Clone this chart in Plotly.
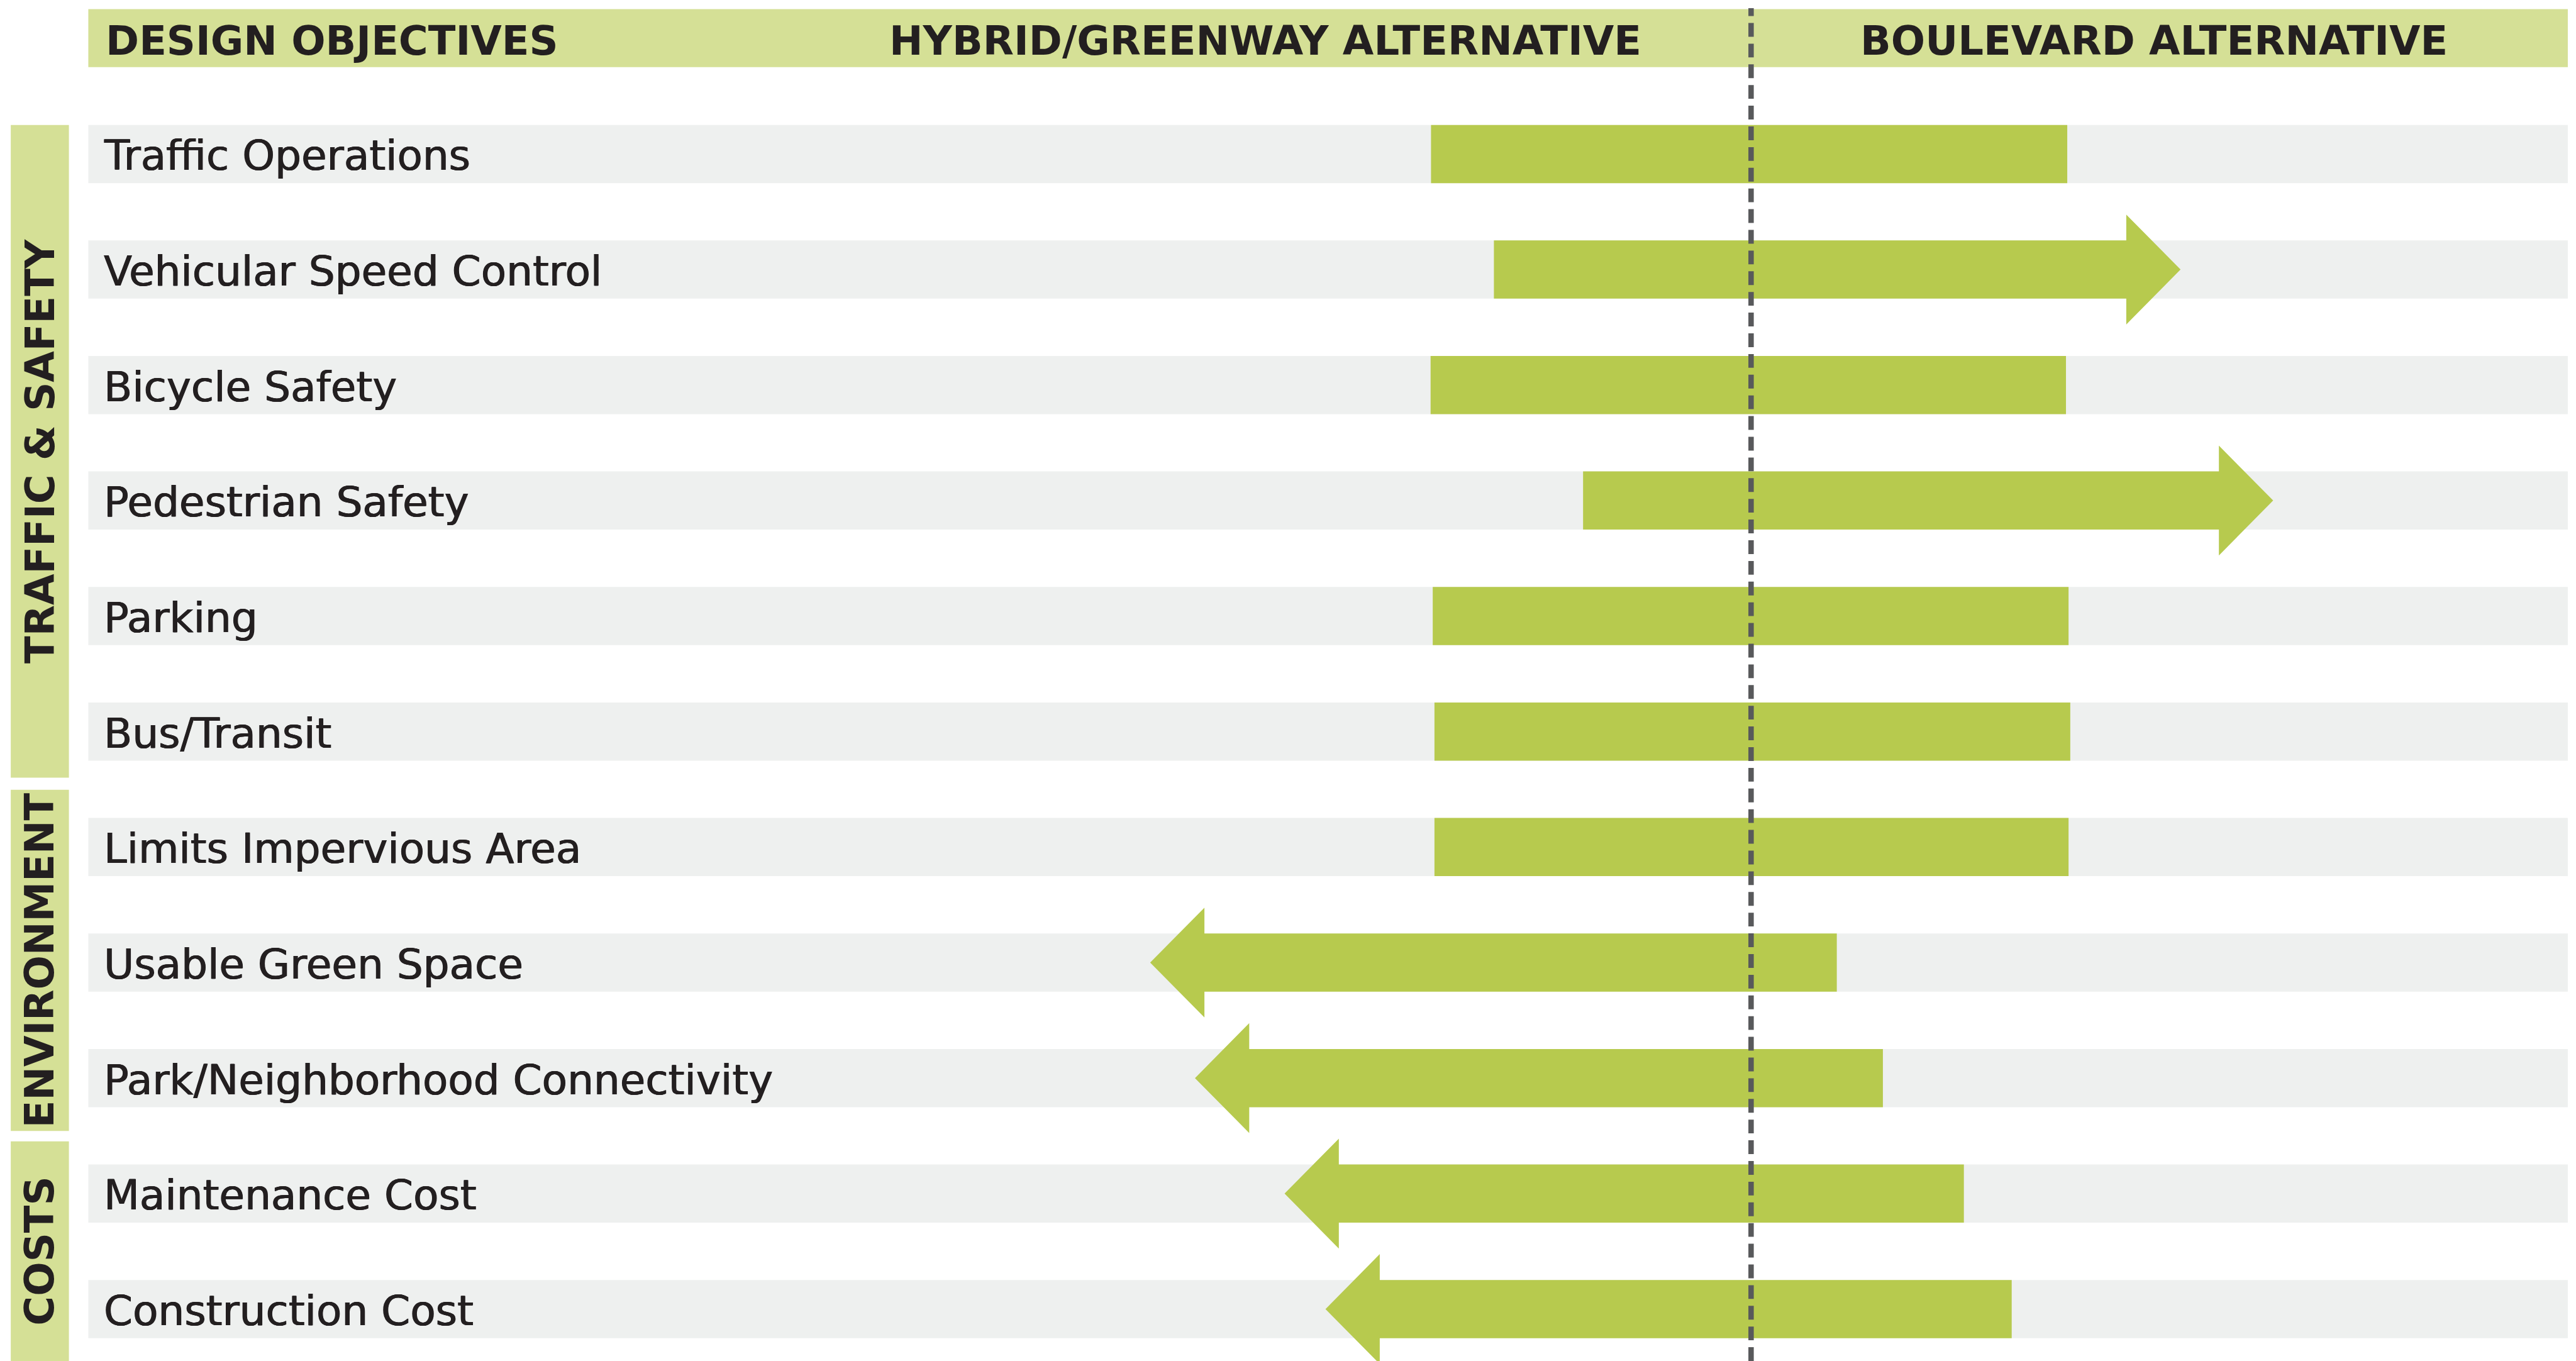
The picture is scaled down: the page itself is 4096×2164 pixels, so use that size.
import plotly.graph_objects as go

# ---------------- data ----------------
objectives = [
    "Traffic Operations", "Vehicular Speed Control", "Bicycle Safety",
    "Pedestrian Safety", "Parking", "Bus/Transit", "Limits Impervious Area",
    "Usable Green Space", "Park/Neighborhood Connectivity",
    "Maintenance Cost", "Construction Cost",
]
# extent of each bar (0 = dividing line; negative = toward Hybrid/Greenway)
hybrid_end = [-7.43, -5.97, -7.44, -3.90, -7.39, -7.35, -7.35, -13.95, -12.91, -10.83, -9.88]
boulevard_end = [7.34, 9.97, 7.31, 12.12, 7.37, 7.41, 7.37, 1.99, 3.06, 4.94, 6.05]
arrow_dir = ["", "right", "", "right", "", "", "", "left", "left", "left", "left"]

groups = ["TRAFFIC & SAFETY", "ENVIRONMENT", "COSTS"]
headers = ["DESIGN OBJECTIVES", "HYBRID/GREENWAY ALTERNATIVE", "BOULEVARD ALTERNATIVE"]

# ---------------- layout / style ----------------
W, H = 4096, 2164
REF_W, REF_H = 5980, 3159
S = W / REF_W
UNIT = 100.0            # reference px per data unit
CENTER_X = 4065.0       # reference px of the dividing line
ROW0 = 357.5            # reference px of first row centre
PITCH = 268.1           # reference px between rows
BAND_HALF = 67.5 / PITCH
HEAD_HALF = 127.5 / PITCH
HEAD_LEN = 126.0 / UNIT

GREEN = "#B7CA4E"
LIGHT_GREEN = "#D5E096"
GREY = "#EEF0EF"
DASH = "#58595B"
TEXT = "#231F20"
FONT = "DejaVu Sans"
LABEL_SHADOW = "0.6px 0 0 #231F20, -0.6px 0 0 #231F20"

group_bands = [(290, 1805), (1833, 2625), (2649, 3170)]
band_x0, band_x1 = 205, 5961
header_y = (21, 156)
cat_x = (25, 160)


def px(x):
    return x / REF_W


def py(y):
    return 1 - y / REF_H


fig = go.Figure()
shapes = []
annotations = []

# header band
shapes.append(dict(type="rect", xref="paper", yref="paper", x0=px(band_x0), x1=px(band_x1),
                   y0=py(header_y[1]), y1=py(header_y[0]), fillcolor=LIGHT_GREEN,
                   line=dict(width=0), layer="below"))
hy = py(sum(header_y) / 2)
hfont = dict(family=FONT, size=64, color=TEXT, weight=700)
annotations.append(dict(text=headers[0], xref="paper", yref="paper", x=px(242), y=hy, yshift=-4,
                        xanchor="left", yanchor="middle", showarrow=False, font=hfont))
annotations.append(dict(text=headers[1], xref="paper", yref="paper", x=px(3814), y=hy, yshift=-4,
                        xanchor="right", yanchor="middle", showarrow=False, font=hfont))
annotations.append(dict(text=headers[2], xref="paper", yref="paper", x=px(4316), y=hy, yshift=-4,
                        xanchor="left", yanchor="middle", showarrow=False, font=hfont))

# category bands
for name, (y0, y1) in zip(groups, group_bands):
    shapes.append(dict(type="rect", xref="paper", yref="paper", x0=px(cat_x[0]), x1=px(cat_x[1]),
                       y0=py(y1), y1=py(y0), fillcolor=LIGHT_GREEN, line=dict(width=0), layer="below"))
    yc = (y0 + min(y1, REF_H)) / 2
    annotations.append(dict(text=name, xref="paper", yref="paper",
                            x=px(sum(cat_x) / 2), y=py(yc), textangle=-90,
                            xanchor="center", yanchor="middle", showarrow=False, font=hfont))

# grey row bands + labels
for i, name in enumerate(objectives):
    shapes.append(dict(type="rect", xref="paper", yref="y", x0=px(band_x0), x1=px(band_x1),
                       y0=i - BAND_HALF, y1=i + BAND_HALF, fillcolor=GREY,
                       line=dict(width=0), layer="below"))
    annotations.append(dict(text=name, xref="paper", yref="y", x=px(238), y=i, yshift=-3,
                            xanchor="left", yanchor="middle", showarrow=False,
                            font=dict(family=FONT, size=66, color=TEXT, shadow=LABEL_SHADOW)))

# bars / arrows
for i, (lo, hi, d) in enumerate(zip(hybrid_end, boulevard_end, arrow_dir)):
    t, b = i - BAND_HALF, i + BAND_HALF
    if d == "right":
        base = hi - HEAD_LEN
        xs = [lo, base, base, hi, base, base, lo, lo]
        ys = [t, t, i - HEAD_HALF, i, i + HEAD_HALF, b, b, t]
    elif d == "left":
        base = lo + HEAD_LEN
        xs = [hi, base, base, lo, base, base, hi, hi]
        ys = [t, t, i - HEAD_HALF, i, i + HEAD_HALF, b, b, t]
    else:
        xs = [lo, hi, hi, lo, lo]
        ys = [t, t, b, b, t]
    fig.add_trace(go.Scatter(x=xs, y=ys, mode="lines", fill="toself", fillcolor=GREEN,
                             line=dict(width=0, color=GREEN), hoverinfo="skip", showlegend=False))

# dividing dashed line
shapes.append(dict(type="line", xref="x", yref="paper", x0=0, x1=0, y0=0, y1=py(19),
                   line=dict(color=DASH, width=12.5 * S, dash=f"{32 * S:.1f}px,{16 * S:.1f}px"),
                   layer="above"))

fig.update_layout(
    width=W, height=H, margin=dict(l=0, r=0, t=0, b=0),
    paper_bgcolor="white", plot_bgcolor="white",
    shapes=shapes, annotations=annotations, showlegend=False,
    xaxis=dict(range=[(0 - CENTER_X) / UNIT, (REF_W - CENTER_X) / UNIT], domain=[0, 1],
               visible=False, fixedrange=True),
    yaxis=dict(range=[(REF_H - ROW0) / PITCH, (0 - ROW0) / PITCH], domain=[0, 1],
               visible=False, fixedrange=True),
)

fig.write_html("out.html", config={"displayModeBar": False},
               post_script="document.body.style.margin='0';document.body.style.overflow='hidden';")
